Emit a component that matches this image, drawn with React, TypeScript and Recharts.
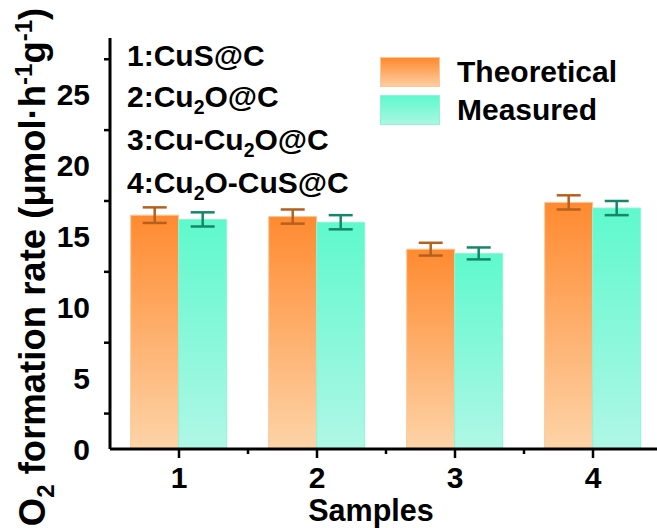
import React from 'react';
import { BarChart, Bar, XAxis, YAxis, ErrorBar, Legend, Customized } from 'recharts';

const categories = ['1', '2', '3', '4'];
const theoretical = [16.5, 16.4, 14.1, 17.4];
const theoreticalErr = [0.55, 0.5, 0.45, 0.5];
const measured = [16.2, 16.0, 13.8, 17.0];
const measuredErr = [0.5, 0.5, 0.42, 0.5];
const yMajorTicks = [0, 5, 10, 15, 20, 25];
const yMinorTicks = [2.5, 7.5, 12.5, 17.5, 22.5, 27.5];
const sampleNames = ['1:CuS@C', '2:Cu_2O@C', '3:Cu-Cu_2O@C', '4:Cu_2O-CuS@C'];
const seriesNames = ['Theoretical', 'Measured'];

const data = categories.map((c, i) => ({
  name: c,
  theoretical: theoretical[i],
  theoreticalErr: theoreticalErr[i],
  measured: measured[i],
  measuredErr: measuredErr[i],
}));

const FONT = '"Liberation Sans", Arial, Helvetica, sans-serif';

const YTick = (props: any) => {
  const { x, y, payload } = props;
  const v = payload.value;
  const axisX = x + 20;
  if (yMajorTicks.includes(v)) {
    return (
      <text x={x} y={y} dy="0.36em" textAnchor="end" fontFamily={FONT} fontWeight="bold" fontSize={30} fill="#000">
        {v}
      </text>
    );
  }
  return <line x1={axisX - 6} x2={axisX} y1={y} y2={y} stroke="#000" strokeWidth={2.5} />;
};

const XTick = (props: any) => {
  const { x, y, payload } = props;
  const off = payload && typeof payload.offset === 'number' ? payload.offset : 69;
  return (
    <g>
      <line x1={x} x2={x} y1={y} y2={y + 9} stroke="#000" strokeWidth={2.5} />
      <line x1={x + off} x2={x + off} y1={y} y2={y + 5} stroke="#000" strokeWidth={2.5} />
      <text x={x} y={y + 39} textAnchor="middle" fontFamily={FONT} fontWeight="bold" fontSize={30} fill="#000">
        {payload.value}
      </text>
    </g>
  );
};

const renderSub = (s: string, size: number) => {
  const parts = s.split('_');
  const out: any[] = [];
  parts.forEach((p, i) => {
    if (i === 0) {
      out.push(<tspan key={'a' + i}>{p}</tspan>);
    } else {
      out.push(
        <tspan key={'s' + i} dy={7} fontSize={size * 0.65}>
          {p[0]}
        </tspan>
      );
      out.push(
        <tspan key={'r' + i} dy={-7}>
          {p.slice(1)}
        </tspan>
      );
    }
  });
  return out;
};

const annotationBaselines = [66, 107, 150, 193];

const Overlay = () => (
  <g fontFamily={FONT} fontWeight="bold" fill="#000">
    {sampleNames.map((s, i) => (
      <text key={s} x={127} y={annotationBaselines[i]} fontSize={30}>
        {renderSub(s, 30)}
      </text>
    ))}
    <text transform="rotate(-90, 45, 267)" x={45} y={267} textAnchor="middle" fontSize={36.5}>
      <tspan>O</tspan>
      <tspan dy={9} fontSize={24}>2</tspan>
      <tspan dy={-9}> formation rate (μmol·h</tspan>
      <tspan dy={-13} fontSize={24}>-1</tspan>
      <tspan dy={13}>g</tspan>
      <tspan dy={-13} fontSize={24}>-1</tspan>
      <tspan dy={13}>)</tspan>
    </text>
    <text x={371} y={521} textAnchor="middle" fontSize={30.5}>
      Samples
    </text>
  </g>
);

const LegendContent = () => {
  const swatches = [
    { bg: 'linear-gradient(to bottom, #FF8A30, #FDCDA0)', border: '#FBC797' },
    { bg: 'linear-gradient(to bottom, #5EF9CC, #A9F7E2)', border: '#8FF3D6' },
  ];
  return (
    <div style={{ fontFamily: FONT, fontWeight: 'bold', fontSize: 30, color: '#000' }}>
      {seriesNames.map((n, i) => (
        <div key={n} style={{ display: 'flex', alignItems: 'center', height: 38, marginBottom: 0 }}>
          <div
            style={{
              width: 60,
              height: 30,
              background: swatches[i].bg,
              border: `1px solid ${swatches[i].border}`,
              boxSizing: 'border-box',
              marginRight: 17,
            }}
          />
          <span style={{ lineHeight: '30px' }}>{n}</span>
        </div>
      ))}
    </div>
  );
};

export default function App() {
  return (
    <div style={{ position: 'fixed', left: 0, top: 0, width: 657, height: 528, overflow: 'hidden', background: '#fff' }}>
      <BarChart
        width={680}
        height={528}
        data={data}
        margin={{ top: 38, right: 18, left: 0, bottom: 0 }}
        barCategoryGap="15%"
        barGap={0}
      >
        <defs>
          <linearGradient id="gradT" x1="0" y1="0" x2="0" y2="1">
            <stop offset="0%" stopColor="#FF8A30" />
            <stop offset="100%" stopColor="#FDD4A8" />
          </linearGradient>
          <linearGradient id="gradM" x1="0" y1="0" x2="0" y2="1">
            <stop offset="0%" stopColor="#5EF9CC" />
            <stop offset="100%" stopColor="#B0F7E6" />
          </linearGradient>
        </defs>
        <XAxis
          dataKey="name"
          height={79}
          axisLine={{ stroke: '#000', strokeWidth: 3 }}
          tickLine={false}
          tickSize={0}
          tickMargin={0}
          tick={<XTick />}
          interval={0}
        />
        <XAxis
          xAxisId="top"
          dataKey="name"
          orientation="top"
          height={0}
          axisLine={{ stroke: '#000', strokeWidth: 3 }}
          tick={false}
          tickLine={false}
        />
        <YAxis
          width={110}
          domain={[0, 29]}
          ticks={[...yMajorTicks, ...yMinorTicks].sort((a, b) => a - b)}
          interval={0}
          axisLine={{ stroke: '#000', strokeWidth: 3 }}
          tickLine={false}
          tickSize={0}
          tickMargin={20}
          tick={<YTick />}
          allowDataOverflow
        />
        <Legend
          layout="vertical"
          align="center"
          verticalAlign="middle"
          content={<LegendContent />}
          wrapperStyle={{ position: 'absolute', left: 380, top: 53, width: 'auto', height: 'auto' }}
        />
        <Bar dataKey="theoretical" name={seriesNames[0]} fill="url(#gradT)" stroke="#FBC797" strokeWidth={1} isAnimationActive={false}>
          <ErrorBar dataKey="theoreticalErr" direction="y" width={12} stroke="#B5601E" strokeWidth={2.5} />
        </Bar>
        <Bar dataKey="measured" name={seriesNames[1]} fill="url(#gradM)" stroke="#8FF3D6" strokeWidth={1} isAnimationActive={false}>
          <ErrorBar dataKey="measuredErr" direction="y" width={12} stroke="#14876A" strokeWidth={2.5} />
        </Bar>
        <Customized component={<Overlay />} />
      </BarChart>
    </div>
  );
}
